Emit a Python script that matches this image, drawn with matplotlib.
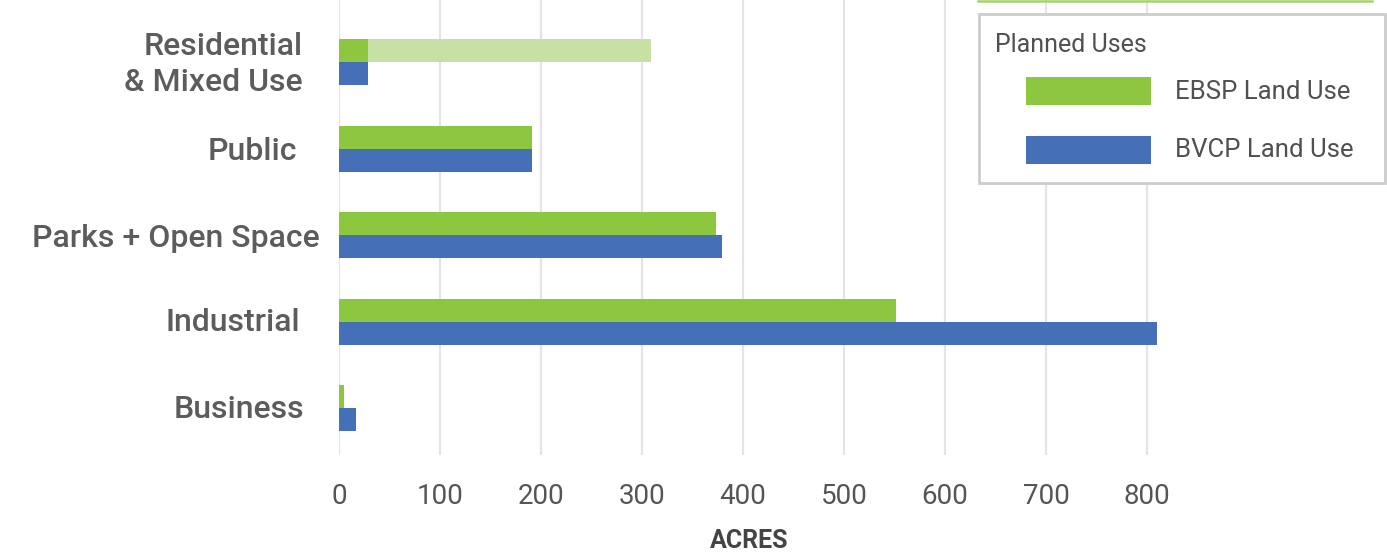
import matplotlib
matplotlib.use("Agg")
import matplotlib.pyplot as plt
from matplotlib.patches import Rectangle
from matplotlib.lines import Line2D
import matplotlib.transforms as mtrans
import numpy as np

plt.rcParams['font.family'] = ['Roboto', 'DejaVu Sans']

categories = ["Residential\n& Mixed Use", "Public", "Parks + Open Space", "Industrial", "Business"]
ebsp = [29, 191, 373, 551, 5]
bvcp = [29, 191, 379, 810, 17]
ebsp_extended = [309, 0, 0, 0, 0]
xticks = [0, 100, 200, 300, 400, 500, 600, 700, 800]

GREEN = "#8DC63F"
LIGHT_GREEN = "#C6E1A3"
BLUE = "#4570B8"
TEXT = "#555555"

W, H = 1387, 553
fig = plt.figure(figsize=(W / 100, H / 100), dpi=100)

left_px, right_px = 339, 1387
top_px, bot_px = 0, 455
ax = fig.add_axes([left_px / W, 1 - bot_px / H, (right_px - left_px) / W, (bot_px - top_px) / H])
ppu = 808 / 800
ax.set_xlim(0, (right_px - left_px) / ppu)
ax.set_ylim(4.543, -0.717)

y = np.arange(len(categories))
bh = 0.266
ax.barh(y - bh / 2, ebsp_extended, height=bh, color=LIGHT_GREEN, zorder=2)
ax.barh(y - bh / 2, ebsp, height=bh, color=GREEN, zorder=3)
ax.barh(y + bh / 2, bvcp, height=bh, color=BLUE, zorder=3)

for xv in xticks:
    ax.axvline(xv, color="#e4e4e4", lw=1.6, zorder=1)

for s in ax.spines.values():
    s.set_visible(False)
ax.set_xticks(xticks)
ax.set_xticklabels([str(v) for v in xticks], fontsize=20, color=TEXT)
ax.tick_params(axis='x', length=0, pad=20)
ax.set_yticks(y)
ax.set_yticklabels(categories, fontsize=23, color="#5c5c5c", ha='right', linespacing=1.3,
                   fontweight='medium')
ax.tick_params(axis='y', length=0, pad=0)

label_right = [303, 297, 320, 300, 304]
label_dy = [4, 0, 0, 2, 2]
for lbl, rx, dy in zip(ax.get_yticklabels(), label_right, label_dy):
    lbl.set_multialignment('right')
    lbl.set_transform(lbl.get_transform() + mtrans.ScaledTranslation(
        (rx - left_px) / 100.0, dy / 100.0, fig.dpi_scale_trans))

fig.text(749 / W, 1 - 541 / H, "ACRES", ha='center', va='center', fontsize=18,
         fontweight='bold', color="#444444")

def fx(px):
    return px / W

def fy(py):
    return 1 - py / H

fig.add_artist(Line2D([fx(978), fx(1372)], [fy(1), fy(1)], color="#a5d36a", lw=1.8))
fig.add_artist(Rectangle((fx(979), fy(183)), fx(1385) - fx(979), fy(14) - fy(183),
                         transform=fig.transFigure, facecolor='white', edgecolor='#cccccc', lw=2, zorder=5))
fig.text(fx(995), fy(45), "Planned Uses", fontsize=18, color="#505050", va='center', ha='left', zorder=6)
fig.add_artist(Rectangle((fx(1026), fy(105)), fx(1151) - fx(1026), fy(77) - fy(105),
                         transform=fig.transFigure, facecolor=GREEN, edgecolor='none', zorder=6))
fig.add_artist(Rectangle((fx(1026), fy(164)), fx(1151) - fx(1026), fy(136) - fy(164),
                         transform=fig.transFigure, facecolor=BLUE, edgecolor='none', zorder=6))
fig.text(fx(1175), fy(92), "EBSP Land Use", fontsize=18.5, color="#505050", va='center', ha='left', zorder=6)
fig.text(fx(1175), fy(150), "BVCP Land Use", fontsize=18.5, color="#505050", va='center', ha='left', zorder=6)

fig.savefig("out.png", dpi=100, facecolor='white')
